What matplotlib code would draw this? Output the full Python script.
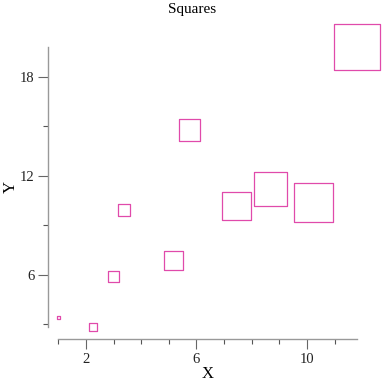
import matplotlib
matplotlib.use("Agg")
from matplotlib import pyplot as plt
from matplotlib.ticker import MultipleLocator

# values
x_vals = [1.0, 2.26, 3.0, 3.38, 5.18, 5.75, 7.46, 8.68, 10.24, 11.81]
y_vals = [3.41, 2.80, 5.88, 9.91, 6.84, 14.75, 10.16, 11.2, 10.37, 19.77]
# side length of each square (pixels in the reference)
sides = [3.0, 7.7, 10.3, 12.7, 19.3, 21.7, 28.7, 33.7, 39.7, 46.0]

DPI = 100
plt.rcParams["font.family"] = ["Liberation Serif", "DejaVu Serif"]

fig = plt.figure(figsize=(3.84, 3.84), dpi=DPI)
ax = fig.add_axes([58.3 / 384, 56.7 / 384, 298.7 / 384, 280.0 / 384])

side_pt = [s * 72 / DPI for s in sides]
ax.scatter(x_vals, y_vals, s=[p ** 2 for p in side_pt], marker="s",
           facecolors="none", edgecolors="#e04aab", linewidths=0.9,
           clip_on=False, zorder=3)

ax.set_xlim(min(x_vals), max(x_vals))
ax.set_ylim(min(y_vals), max(y_vals))

for side in ("top", "right"):
    ax.spines[side].set_visible(False)
ax.spines["left"].set_position(("outward", 10.6 * 72 / DPI))
ax.spines["bottom"].set_position(("outward", 12 * 72 / DPI))
ax.spines["left"].set_bounds(min(y_vals), max(y_vals))
ax.spines["bottom"].set_bounds(min(x_vals), max(x_vals))
for side in ("left", "bottom"):
    ax.spines[side].set_color("#999999")
    ax.spines[side].set_linewidth(1.0)

ax.xaxis.set_minor_locator(MultipleLocator(1))
ax.yaxis.set_minor_locator(MultipleLocator(3))
ax.set_xticks([2, 6, 10])
ax.set_yticks([6, 12, 18])

ax.tick_params(which="major", length=7.2, width=0.8, color="#666666",
               labelsize=10.5, labelcolor="#222222", pad=2.5)
ax.tick_params(which="minor", length=3.6, width=0.8, color="#555555")

ax.set_xlabel("X", fontsize=12, labelpad=0)
ax.set_ylabel("Y", fontsize=12, labelpad=0.5)
fig.text(0.5, 1 - 10 / 384, "Squares", ha="center", va="center", fontsize=11)

fig.savefig("out.png", dpi=DPI)
